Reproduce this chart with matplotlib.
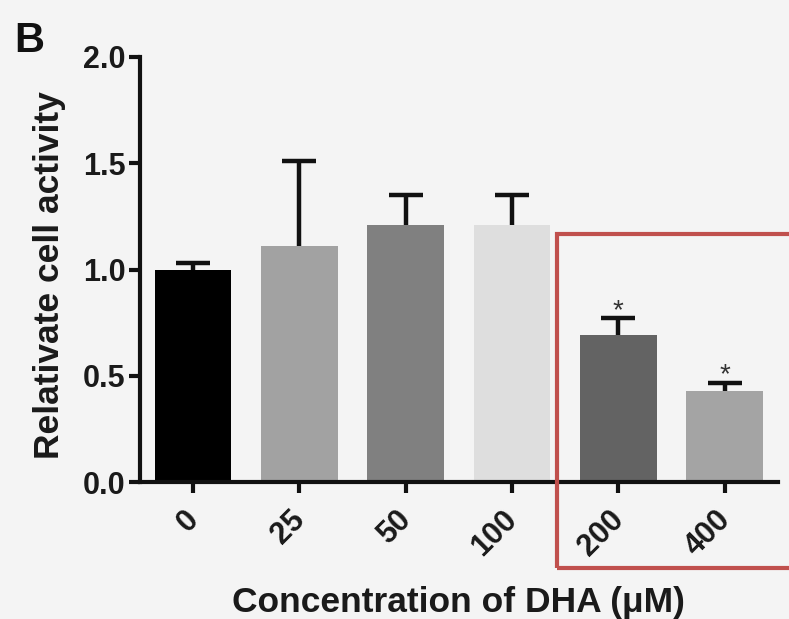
import matplotlib.pyplot as plt
from matplotlib.patches import Rectangle

plt.rcParams['font.family'] = ['Liberation Sans', 'DejaVu Sans']
plt.rcParams['font.weight'] = 'bold'

doses = ['0', '25', '50', '100', '200', '400']
means = [1.00, 1.11, 1.21, 1.21, 0.69, 0.43]
errors = [0.03, 0.40, 0.14, 0.14, 0.08, 0.035]
colours = ['#000000', '#a2a2a2', '#808080', '#dedede', '#636363', '#a4a4a4']
signif = ['', '', '', '', '*', '*']

fig = plt.figure(figsize=(7.89, 6.19), dpi=100)
fig.patch.set_facecolor('#f4f4f4')
ax = fig.add_axes([0.177, 0.221, 0.809, 0.687])
ax.set_facecolor('none')

x = list(range(len(doses)))
ax.bar(x, means, width=0.72, color=colours, zorder=2)
eb = ax.errorbar(x, means, yerr=[[0] * len(errors), errors], fmt='none',
                 ecolor='#111111', elinewidth=3.2, capsize=12, capthick=3.2, zorder=3)
# only the upper half of the error bar is shown
eb[1][0].set_visible(False)
for xi, m, e, s in zip(x, means, errors, signif):
    if s:
        ax.text(xi, m + e - 0.025, s, ha='center', va='bottom',
                fontsize=20, fontweight='normal', color='#333333')

ax.set_xlim(-0.5, 5.5)
ax.set_ylim(0, 2.0)
ax.set_yticks([0.0, 0.5, 1.0, 1.5, 2.0])
ax.set_yticklabels(['0.0', '0.5', '1.0', '1.5', '2.0'])
ax.set_xticks(x)
ax.set_xticklabels([])
# rotated dose labels, nudged a little left of the ticks
for xi, lab in zip(x, doses):
    ax.annotate(lab, xy=(xi, 0), xycoords=('data', 'axes fraction'),
                xytext=(-7, -16), textcoords='offset points',
                rotation=45, ha='right', va='top', rotation_mode='anchor',
                fontsize=22, fontweight='bold', color='#1a1a1a')

for side in ['top', 'right']:
    ax.spines[side].set_visible(False)
for side in ['left', 'bottom']:
    ax.spines[side].set_linewidth(3)
    ax.spines[side].set_color('#111111')
ax.tick_params(axis='both', width=3, length=8, labelsize=22, pad=2,
               color='#111111', labelcolor='#1a1a1a')

ax.set_ylabel('Relativate cell activity', fontsize=25.5, fontweight='bold',
              color='#1a1a1a')
ax.yaxis.set_label_coords(-0.115, 0.487)
ax.set_xlabel('Concentration of DHA (μM)', fontsize=25.5, fontweight='bold',
              color='#1a1a1a')
ax.xaxis.set_label_coords(0.5, -0.245)

fig.text(0.018, 0.966, 'B', fontsize=30, fontweight='bold', va='top', ha='left',
         color='#111111')

fig.add_artist(Rectangle((557 / 789, 1 - 568 / 619), 240 / 789, (568 - 234) / 619,
                         transform=fig.transFigure, fill=False,
                         edgecolor='#c0504d', linewidth=3))

fig.savefig('out.png', dpi=100, facecolor=fig.get_facecolor())
